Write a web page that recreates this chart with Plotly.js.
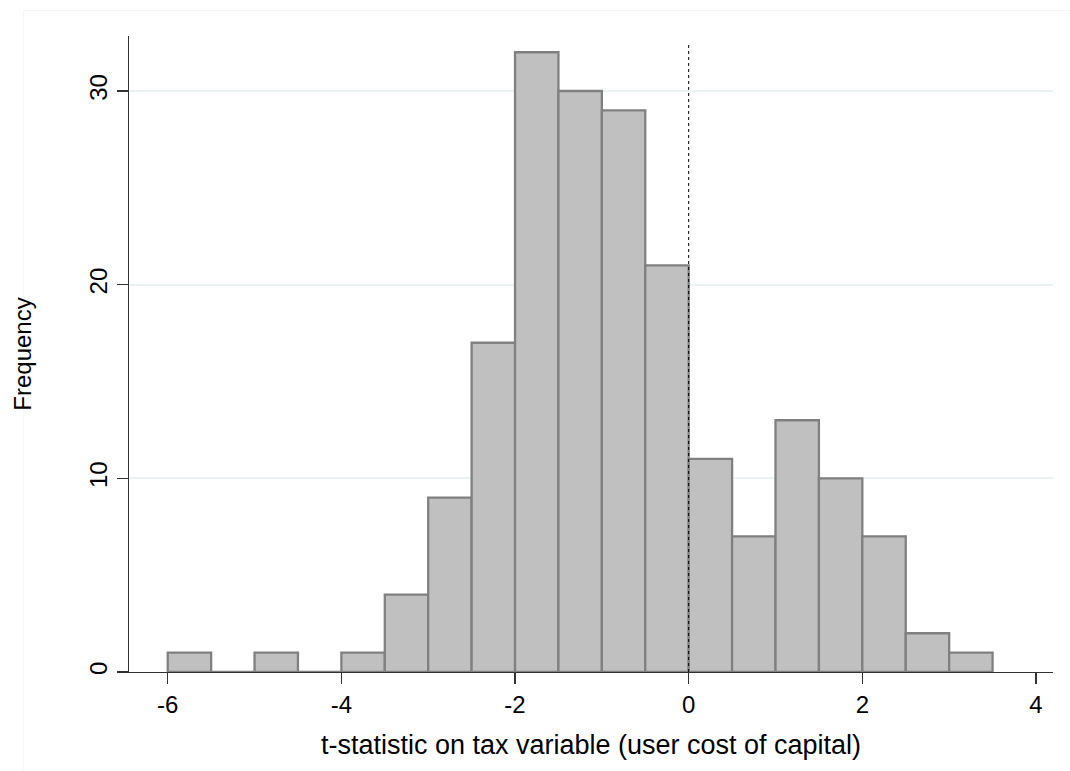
<!DOCTYPE html>
<html>
<head>
<meta charset="utf-8">
<script src="https://cdn.plot.ly/plotly-3.0.1.min.js"></script>
<style>html,body{margin:0;padding:0;background:#fff;}#chart{width:1070px;height:771px;}</style>
</head>
<body>
<div id="chart"></div>
<script>
// Histogram bins (left edges, width 0.5) and frequencies
var binStarts = [-6, -5.5, -5, -4.5, -4, -3.5, -3, -2.5, -2, -1.5, -1, -0.5, 0, 0.5, 1, 1.5, 2, 2.5, 3];
var counts    = [ 1,  0,    1,  0,    1,  4,    9,  17,   32, 30,   29, 21,   11, 7,   13, 10,  7,  2,   1];
var binWidth = 0.5;
var xTicks = [-6, -4, -2, 0, 2, 4];
var xTickLabels = ["-6", "-4", "-2", "0", "2", "4"];
var yTicks = [0, 10, 20, 30];
var yTickLabels = ["0", "10", "20", "30"];
var xTitle = "t-statistic on tax variable (user cost of capital)";
var yTitle = "Frequency";
var refLineX = 0;

var font = "Liberation Sans, Arial, sans-serif";

var trace = {
  type: "bar",
  x: binStarts,
  y: counts,
  width: binStarts.map(function(){return binWidth;}),
  offset: 0,
  marker: {color: "#c0c0c0", line: {color: "#808080", width: 2.3}},
  hoverinfo: "x+y"
};

var layout = {
  width: 1070, height: 771,
  margin: {l: 129, r: 17, t: 36, b: 99},
  paper_bgcolor: "#ffffff",
  plot_bgcolor: "#ffffff",
  showlegend: false,
  bargap: 0,
  font: {family: font, size: 24, color: "#000"},
  xaxis: {
    range: [-6.446, 4.196],
    tickvals: xTicks, ticktext: xTickLabels,
    ticks: "outside", ticklen: 11, tickwidth: 1.3, tickcolor: "#333",
    showline: true, linecolor: "#333", linewidth: 1.3,
    showgrid: false, zeroline: false,
    tickfont: {family: font, size: 24, color: "#000"},
    title: {text: xTitle, font: {family: font, size: 27, color: "#000"}, standoff: 18}
  },
  yaxis: {
    range: [0, 32.84],
    tickvals: yTicks, ticktext: yTickLabels,
    tickangle: -90,
    ticks: "outside", ticklen: 11, tickwidth: 1.3, tickcolor: "#333",
    showline: true, linecolor: "#333", linewidth: 1.3,
    showgrid: true, gridcolor: "#eaf2f3", gridwidth: 2,
    zeroline: false,
    tickfont: {family: font, size: 24, color: "#000"},
    title: {text: yTitle, font: {family: font, size: 24, color: "#000"}, standoff: 46}
  },
  shapes: [
    {type: "line", xref: "x", yref: "y", x0: refLineX, x1: refLineX, y0: 0, y1: 32.5,
     line: {color: "#000", width: 1, dash: "dot"}, layer: "above"},
    {type: "rect", xref: "paper", yref: "paper", x0: -0.114, x1: 1.02, y0: -0.16, y1: 1.04,
     line: {color: "#f3f6f7", width: 1}, fillcolor: "rgba(0,0,0,0)", layer: "below"}
  ]
};

Plotly.newPlot("chart", [trace], layout, {displayModeBar: false, staticPlot: true});
</script>
</body>
</html>
